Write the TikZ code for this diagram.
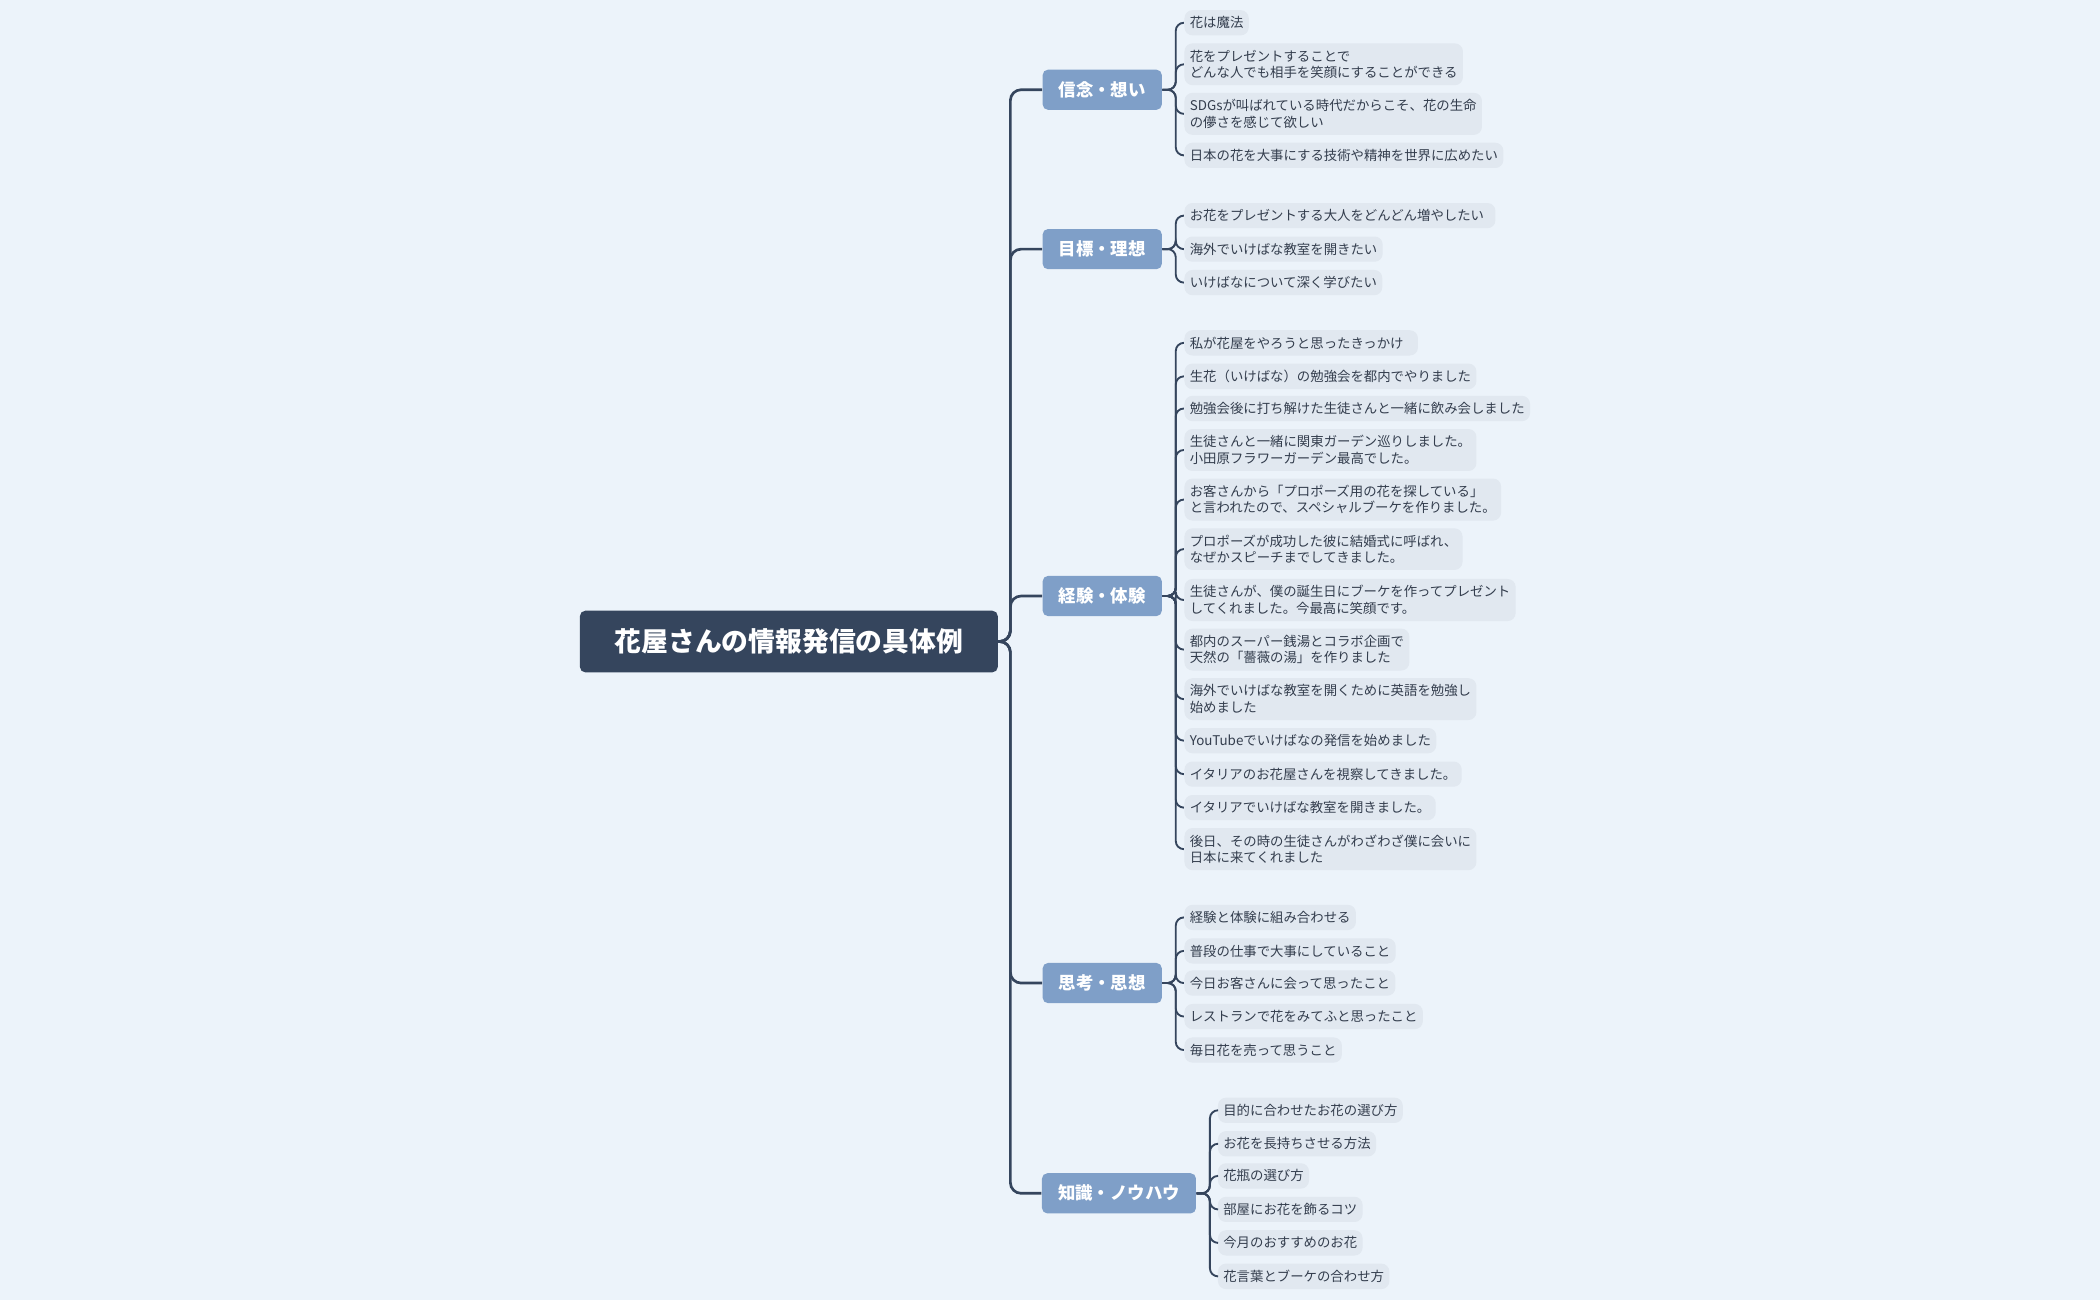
\documentclass[tikz,border=0pt]{standalone}
\usepackage{fontspec}
\setmainfont{Noto Sans CJK JP}
\definecolor{bg}{HTML}{ECF3FA}
\definecolor{rootc}{HTML}{35455D}
\definecolor{brc}{HTML}{7F9FC8}
\definecolor{leafc}{HTML}{E1E8F0}
\definecolor{txt}{HTML}{333D4D}
\tikzset{
 rootbox/.style={fill=rootc,rounded corners=2pt,text=white,font=\fontsize{10}{12}\selectfont\bfseries,minimum width=156pt,minimum height=23pt},
 brbox/.style={fill=brc,rounded corners=2pt,text=white,font=\fontsize{6.5}{8}\selectfont\bfseries,minimum height=15pt,inner xsep=6pt},
 leafbox/.style={fill=leafc,rounded corners=3pt,text=txt,font=\fontsize{5}{6.2}\selectfont,align=left,inner xsep=2pt,inner ysep=2.4pt,anchor=west,minimum height=9pt},
 conn/.style={draw=rootc,line width=1pt,rounded corners=4pt},
 sconn/.style={draw=rootc,line width=0.7pt,rounded corners=3pt},
}
\begin{document}
\begin{tikzpicture}[x=0.5pt,y=-0.5pt]
\fill[bg] (0,0) rectangle (1568,971);
\node[rootbox] (root) at (589,479) {花屋さんの情報発信の具体例};
\node[brbox,minimum width=43pt] (b1) at (823,67) {信念・想い};
\node[brbox,minimum width=43pt] (b2) at (823,186) {目標・理想};
\node[brbox,minimum width=43pt] (b3) at (823,445) {経験・体験};
\node[brbox,minimum width=43pt] (b4) at (823,734) {思考・思想};
\node[brbox,minimum width=55.5pt] (b5) at (835.5,891) {知識・ノウハウ};
\foreach \b in {b1,b2,b3,b4,b5}{\draw[conn] (root.east) -- ++(9,0) |- (\b.west);}
% leaves
\foreach \n/\y/\t in {a1/17/{花は魔法},a2/48/{花をプレゼントすることで\\どんな人でも相手を笑顔にすることができる},a3/85/{SDGsが叫ばれている時代だからこそ、花の生命\\の儚さを感じて欲しい},a4/116/{日本の花を大事にする技術や精神を世界に広めたい}}{
 \node[leafbox] (\n) at (884,\y) {\t}; \draw[sconn] (b1.east) -- ++(10,0) |- (\n.west);}
\foreach \n/\y/\t in {c1/161/{お花をプレゼントする大人をどんどん増やしたい\ \ },c2/186/{海外でいけばな教室を開きたい},c3/211/{いけばなについて深く学びたい}}{
 \node[leafbox] (\n) at (884,\y) {\t}; \draw[sconn] (b2.east) -- ++(10,0) |- (\n.west);}
\foreach \n/\y/\t in {d1/256/{私が花屋をやろうと思ったきっかけ\ \ \ },d2/281/{生花（いけばな）の勉強会を都内でやりました},d3/305/{勉強会後に打ち解けた生徒さんと一緒に飲み会しました},d4/336/{生徒さんと一緒に関東ガーデン巡りしました。\\小田原フラワーガーデン最高でした。},d5/373/{お客さんから「プロポーズ用の花を探している」\\と言われたので、スペシャルブーケを作りました。},d6/410/{プロポーズが成功した彼に結婚式に呼ばれ、\\なぜかスピーチまでしてきました。},d7/448/{生徒さんが、僕の誕生日にブーケを作ってプレゼント\\してくれました。今最高に笑顔です。},d8/485/{都内のスーパー銭湯とコラボ企画で\\天然の「薔薇の湯」を作りました},d9/522/{海外でいけばな教室を開くために英語を勉強し\\始めました},d10/553/{YouTubeでいけばなの発信を始めました},d11/578/{イタリアのお花屋さんを視察してきました。},d12/603/{イタリアでいけばな教室を開きました。},d13/634/{後日、その時の生徒さんがわざわざ僕に会いに\\日本に来てくれました}}{
 \node[leafbox] (\n) at (884,\y) {\t}; \draw[sconn] (b3.east) -- ++(10,0) |- (\n.west);}
\foreach \n/\y/\t in {e1/685/{経験と体験に組み合わせる},e2/710/{普段の仕事で大事にしていること},e3/734/{今日お客さんに会って思ったこと},e4/759/{レストランで花をみてふと思ったこと},e5/784/{毎日花を売って思うこと}}{
 \node[leafbox] (\n) at (884,\y) {\t}; \draw[sconn] (b4.east) -- ++(10,0) |- (\n.west);}
\foreach \n/\y/\t in {f1/829/{目的に合わせたお花の選び方},f2/854/{お花を長持ちさせる方法},f3/878/{花瓶の選び方},f4/903/{部屋にお花を飾るコツ},f5/928/{今月のおすすめのお花},f6/953/{花言葉とブーケの合わせ方}}{
 \node[leafbox] (\n) at (909,\y) {\t}; \draw[sconn] (b5.east) -- ++(10,0) |- (\n.west);}
\end{tikzpicture}
\end{document}
